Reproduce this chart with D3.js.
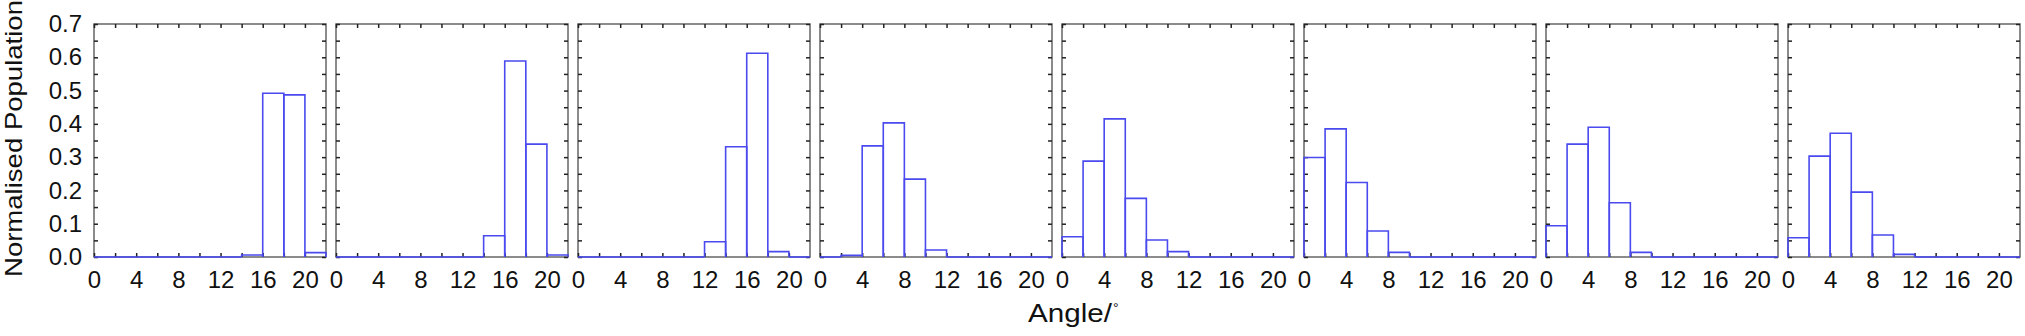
<!DOCTYPE html>
<html>
<head>
<meta charset="utf-8">
<script src="https://cdn.jsdelivr.net/npm/d3@7"></script>
<style>
  body { margin: 0; background: #fff; }
  text { font-family: "Liberation Sans", Arial, sans-serif; fill: #111; }
</style>
</head>
<body>
<div id="chart"></div>
<script>
// bin left edges (degrees), each bin is 2 wide
var binStarts = [0, 2, 4, 6, 8, 10, 12, 14, 16, 18, 20];
var binWidth = 2;

// normalised population for each panel
var pop1 = [0, 0, 0, 0, 0, 0, 0, 0.006, 0.492, 0.487, 0.013];
var pop2 = [0, 0, 0, 0, 0, 0, 0, 0.064, 0.589, 0.339, 0.006];
var pop3 = [0, 0, 0, 0, 0, 0, 0.046, 0.331, 0.612, 0.016, 0];
var pop4 = [0, 0.005, 0.334, 0.403, 0.234, 0.021, 0, 0, 0, 0, 0];
var pop5 = [0.061, 0.288, 0.415, 0.176, 0.051, 0.016, 0, 0, 0, 0, 0];
var pop6 = [0.299, 0.385, 0.224, 0.078, 0.014, 0, 0, 0, 0, 0, 0];
var pop7 = [0.094, 0.339, 0.390, 0.163, 0.014, 0, 0, 0, 0, 0, 0];
var pop8 = [0.058, 0.303, 0.372, 0.195, 0.066, 0.008, 0, 0, 0, 0, 0];
var panels = [pop1, pop2, pop3, pop4, pop5, pop6, pop7, pop8];

// tick values
var xTicks = [0, 2, 4, 6, 8, 10, 12, 14, 16, 18, 20];
var xLabels = [0, 4, 8, 12, 16, 20];
var yTicks = [0, 0.05, 0.1, 0.15, 0.2, 0.25, 0.3, 0.35, 0.4, 0.45, 0.5, 0.55, 0.6, 0.65, 0.7];

var svgWidth = 2025;
var svgHeight = 336;

var plotTop = 24;
var plotBottom = 257;

var svg = d3.select("#chart")
    .append("svg")
    .attr("width", svgWidth)
    .attr("height", svgHeight);

svg.append("rect")
    .attr("width", svgWidth)
    .attr("height", svgHeight)
    .attr("fill", "#fff");

// where each panel sits
var panelScale = d3.scaleBand()
    .domain(d3.range(panels.length))
    .range([94, 2020])
    .paddingInner(10 / 242)
    .paddingOuter(0);

var panelW = panelScale.bandwidth();
var panelH = plotBottom - plotTop;

var xScale = d3.scaleLinear().domain([0, 22]).range([0, panelW]);
var yScale = d3.scaleLinear().domain([0, 0.7]).range([panelH, 0]);

function showX(d) { return xLabels.indexOf(d) >= 0 ? d : ""; }
function showY(d) { return Math.round(d * 100) % 10 === 0 ? d3.format(".1f")(d) : ""; }

panels.forEach(function(values, i) {
    var g = svg.append("g")
        .attr("transform", `translate(${panelScale(i)}, ${plotTop})`);

    // frame
    g.append("rect")
        .attr("width", panelW)
        .attr("height", panelH)
        .attr("fill", "none")
        .attr("stroke", "#666")
        .attr("stroke-width", 1.5);

    // inward ticks on all four sides
    g.append("g")
        .attr("transform", `translate(0, ${panelH})`)
        .call(d3.axisBottom(xScale).tickValues(xTicks).tickSizeInner(-4).tickSizeOuter(0)
            .tickPadding(13.5).tickFormat(showX));

    g.append("g")
        .call(d3.axisTop(xScale).tickValues(xTicks).tickSizeInner(-4).tickSizeOuter(0).tickFormat(""));

    g.append("g")
        .call(d3.axisLeft(yScale).tickValues(yTicks).tickSizeInner(-4).tickSizeOuter(0)
            .tickPadding(12).tickFormat(i === 0 ? showY : ""));

    g.append("g")
        .attr("transform", `translate(${panelW}, 0)`)
        .call(d3.axisRight(yScale).tickValues(yTicks).tickSizeInner(-4).tickSizeOuter(0).tickFormat(""));

    g.selectAll(".domain").remove();
    g.selectAll(".tick line").attr("stroke", "#222").attr("stroke-width", 1.5);
    g.selectAll(".tick text")
        .attr("font-size", 24)
        .attr("font-family", "Liberation Sans, Arial, sans-serif")
        .attr("fill", "#111");

    // histogram bars: open outline (no bottom edge) so zero bins show as a line
    g.selectAll("path.bin")
        .data(values)
        .enter()
        .append("path")
        .attr("class", "bin")
        .attr("d", function(v, j) {
            var x0 = xScale(binStarts[j]);
            var x1 = xScale(binStarts[j] + binWidth);
            return `M${x0},${yScale(0)}V${yScale(v)}H${x1}V${yScale(0)}`;
        })
        .attr("fill", "none")
        .attr("stroke", "#4a4aef")
        .attr("stroke-width", 1.6);
});

// y axis title
svg.append("text")
    .attr("transform", "translate(22, 138.5) rotate(-90)")
    .attr("text-anchor", "middle")
    .attr("font-size", 24)
    .attr("textLength", 277)
    .attr("lengthAdjust", "spacingAndGlyphs")
    .text("Normalised Population");

// x axis title
svg.append("text")
    .attr("x", 1028)
    .attr("y", 322)
    .attr("font-size", 25)
    .attr("textLength", 84)
    .attr("lengthAdjust", "spacingAndGlyphs")
    .text("Angle/");

svg.append("text")
    .attr("x", 1113)
    .attr("y", 313)
    .attr("font-size", 14)
    .text("°");
</script>
</body>
</html>
